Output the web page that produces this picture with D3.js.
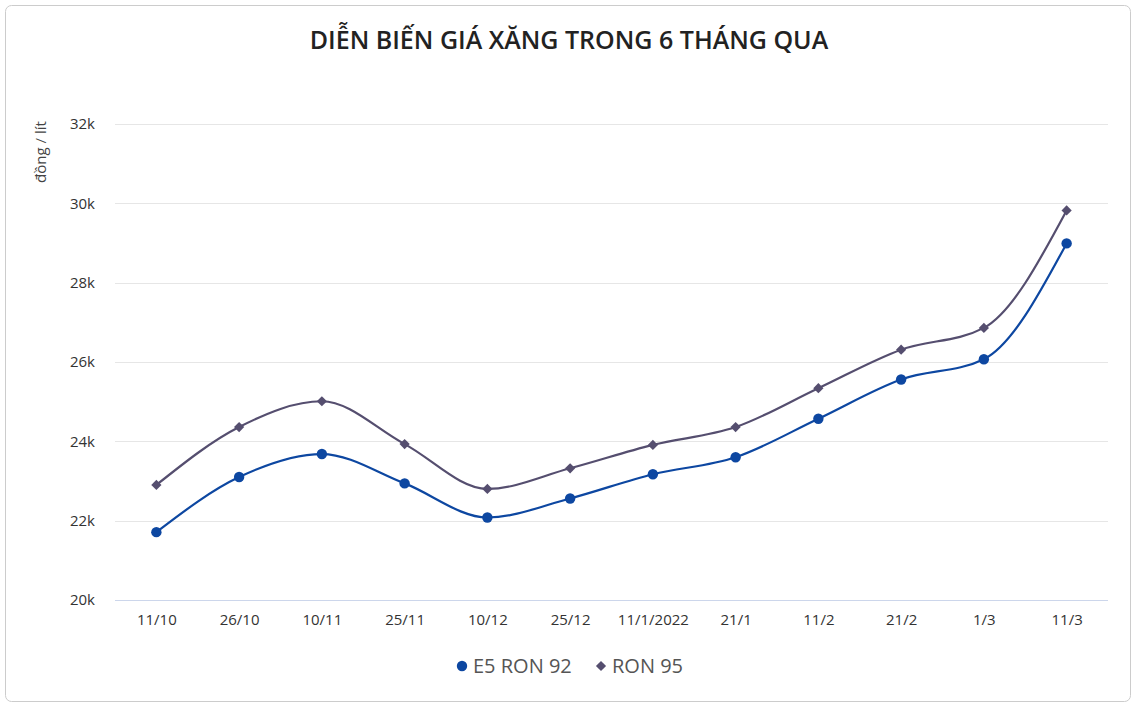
<!DOCTYPE html>
<html>
  <head>
    <meta charset="utf-8">
    <title>Diễn biến giá xăng</title>
    <script src="https://d3js.org/d3.v7.min.js"></script>
    <style>
      body { margin: 0; background: #fff; }
      svg text { font-family: "Open Sans", "Noto Sans", sans-serif; }
      .grid line { stroke: #e6e6e6; stroke-width: 1; }
      .axis text { fill: #333; font-size: 15px; }
      .line { fill: none; stroke-width: 2.2; }
    </style>
  </head>
  <body>
    <script>
      var dates = ['11/10', '26/10', '10/11', '25/11', '10/12', '25/12', '11/1/2022', '21/1', '11/2', '21/2', '1/3', '11/3'];
      var e5Ron92 = [21710, 23100, 23680, 22940, 22080, 22560, 23170, 23600, 24570, 25560, 26070, 28990];
      var ron95 = [22900, 24360, 25010, 23930, 22800, 23320, 23910, 24360, 25340, 26310, 26860, 29820];
      var yTicks = [20000, 22000, 24000, 26000, 28000, 30000, 32000];

      var W = 1136, H = 706;
      var m = { left: 115, right: 28, top: 124, bottom: 106 };

      var svg = d3.select('body').append('svg').attr('width', W).attr('height', H);

      svg.append('rect')
        .attr('x', 5.5).attr('y', 5.5).attr('width', W - 11).attr('height', H - 10)
        .attr('rx', 6).attr('fill', '#fff').attr('stroke', '#cccccc');

      var x = d3.scalePoint().domain(dates).range([m.left, W - m.right]).padding(0.5);
      var y = d3.scaleLinear().domain([20000, 32000]).range([H - m.bottom, m.top]);

      svg.append('text')
        .attr('x', W / 2 + 1).attr('y', 49).attr('text-anchor', 'middle')
        .attr('font-size', 25).attr('font-weight', 600).attr('fill', '#222')
        .text('DIỄN BIẾN GIÁ XĂNG TRONG 6 THÁNG QUA');

      // grid
      svg.append('g').attr('class', 'grid')
        .selectAll('line').data(yTicks.slice(1)).enter().append('line')
        .attr('x1', m.left).attr('x2', W - m.right)
        .attr('y1', function(d){ return Math.round(y(d)) + 0.5 })
        .attr('y2', function(d){ return Math.round(y(d)) + 0.5 });

      // y axis
      var yAxis = svg.append('g').attr('class', 'axis')
        .attr('transform', 'translate(' + (m.left - 20) + ',0)')
        .call(d3.axisLeft(y).tickValues(yTicks).tickSize(0).tickPadding(0)
          .tickFormat(function(d){ return (d / 1000) + 'k' }));
      yAxis.select('.domain').remove();
      yAxis.selectAll('text').attr('fill', '#333');

      svg.append('text')
        .attr('transform', 'translate(46,152) rotate(-90)')
        .attr('text-anchor', 'middle').attr('font-size', 15).attr('fill', '#444')
        .text('đồng / lít');

      // x axis
      var xAxis = svg.append('g').attr('class', 'axis')
        .attr('transform', 'translate(0,' + (Math.round(y(20000)) + 0.5) + ')')
        .call(d3.axisBottom(x).tickSize(0).tickPadding(14));
      xAxis.select('.domain').attr('stroke', '#ccd6eb')
        .attr('d', 'M' + m.left + ',0H' + (W - m.right));

      var line = d3.line()
        .x(function(d, i){ return x(dates[i]) })
        .y(function(d){ return y(d) })
        .curve(d3.curveMonotoneX);

      var series = [
        { name: 'E5 RON 92', values: e5Ron92, color: '#0d47a1', symbol: d3.symbolCircle, size: 85, rot: 0 },
        { name: 'RON 95', values: ron95, color: '#554e6f', symbol: d3.symbolSquare, size: 52, rot: 45 }
      ];

      series.slice().reverse().forEach(function(s){
        svg.append('path').datum(s.values).attr('class', 'line')
          .attr('stroke', s.color).attr('d', line);
        svg.append('g').selectAll('path').data(s.values).enter().append('path')
          .attr('d', d3.symbol().type(s.symbol).size(s.size))
          .attr('fill', s.color)
          .attr('transform', function(d, i){ return 'translate(' + x(dates[i]) + ',' + y(d) + ') rotate(' + s.rot + ')' });
      });

      // legend
      var legend = svg.append('g').attr('transform', 'translate(462,666)');
      var lx = [0, 139];
      series.forEach(function(s, i){
        var g = legend.append('g').attr('transform', 'translate(' + lx[i] + ',0)');
        g.append('path').attr('d', d3.symbol().type(s.symbol).size(s.size))
          .attr('transform', 'rotate(' + s.rot + ')').attr('fill', s.color);
        g.append('text').attr('x', 11).attr('y', 7).attr('font-size', 20).attr('fill', '#555')
          .text(s.name);
      });
    </script>
  </body>
</html>
